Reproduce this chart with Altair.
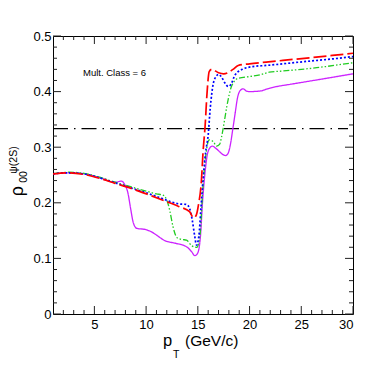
import altair as alt
import pandas as pd

# ---------------- data ----------------
x_domain = [1, 30]
y_domain = [0, 0.5]
x_major = [5, 10, 15, 20, 25, 30]
y_major = [0.0, 0.1, 0.2, 0.3, 0.4, 0.5]
x_minor = [2, 3, 4, 6, 7, 8, 9, 11, 12, 13, 14, 16, 17, 18, 19, 21, 22, 23, 24, 26, 27, 28, 29]
y_minor = [0.02, 0.04, 0.06, 0.08, 0.12, 0.14, 0.16, 0.18, 0.22, 0.24, 0.26, 0.28,
           0.32, 0.34, 0.36, 0.38, 0.42, 0.44, 0.46, 0.48]

red_x = [1.0, 2.5, 4.0, 5.5, 7.0, 8.7, 10.3, 12.0, 13.2, 14.2, 14.6, 14.85, 15.05, 15.35,
         15.5, 15.7, 15.9, 16.1, 16.35, 17.0, 17.5, 17.9, 18.4, 18.9, 20.0, 21.6, 24.8, 28.0, 30.0]
red_y = [0.252, 0.254, 0.251, 0.244, 0.235, 0.225, 0.214, 0.202, 0.193, 0.184, 0.173, 0.178,
         0.195, 0.241, 0.29, 0.337, 0.40, 0.436, 0.440, 0.434, 0.432, 0.434, 0.440, 0.447,
         0.450, 0.453, 0.459, 0.465, 0.469]

blue_x = [1.0, 2.5, 4.0, 5.5, 7.0, 8.5, 10.0, 11.5, 12.5, 13.2, 13.9, 14.2, 14.45, 14.7,
          14.87, 15.1, 15.3, 15.5, 15.75, 16.0, 16.2, 16.5, 16.8, 17.0, 17.3, 17.6, 17.95,
          18.2, 18.6, 19.3, 20.3, 21.6, 24.8, 28.1, 30.0]
blue_y = [0.252, 0.254, 0.252, 0.245, 0.236, 0.227, 0.218, 0.208, 0.201, 0.198, 0.197, 0.19,
          0.17, 0.14, 0.124, 0.14, 0.19, 0.241, 0.29, 0.322, 0.37, 0.415, 0.428, 0.431, 0.426,
          0.416, 0.409, 0.413, 0.43, 0.440, 0.445, 0.447, 0.453, 0.459, 0.463]

green_x = [1.0, 2.5, 4.0, 5.5, 7.0, 8.5, 10.0, 11.0, 11.6, 12.0, 12.3, 12.6, 13.0, 13.5,
           13.9, 14.4, 14.9, 15.2, 15.5, 15.8, 16.1, 16.5, 16.8, 17.1, 17.3, 17.55, 17.8,
           18.25, 18.9, 20.0, 21.0, 21.9, 23.2, 26.5, 30.0]
green_y = [0.252, 0.255, 0.253, 0.246, 0.237, 0.229, 0.221, 0.216, 0.214, 0.205, 0.185,
           0.157, 0.137, 0.134, 0.133, 0.123, 0.12, 0.14, 0.23, 0.29, 0.313, 0.31, 0.302,
           0.305, 0.319, 0.345, 0.373, 0.409, 0.424, 0.427, 0.43, 0.435, 0.437, 0.443, 0.452]

mag_x = [1.0, 2.5, 4.0, 5.5, 7.0, 7.6, 7.9, 8.25, 8.5, 8.75, 9.1, 9.9, 10.5, 11.0, 11.8,
         12.9, 13.9, 14.4, 14.7, 14.97, 15.25, 15.45, 15.7, 15.9, 16.1, 16.4, 16.8, 17.1,
         17.4, 17.7, 17.95, 18.15, 18.4, 18.6, 18.85, 19.1, 19.4, 19.7, 20.0, 21.0, 21.9,
         22.6, 23.9, 26.5, 30.0]
mag_y = [0.252, 0.254, 0.252, 0.245, 0.237, 0.239, 0.234, 0.217, 0.19, 0.165, 0.154, 0.152,
         0.148, 0.142, 0.132, 0.127, 0.121, 0.112, 0.105, 0.109, 0.139, 0.2, 0.255, 0.285,
         0.297, 0.302, 0.297, 0.292, 0.287, 0.285, 0.29, 0.305, 0.335, 0.36, 0.39, 0.402,
         0.405, 0.401, 0.400, 0.401, 0.406, 0.409, 0.413, 0.421, 0.432]

ref_level = [1.0 / 3.0]
label_text = ["Mult. Class = 6"]

# ---------------- chart ----------------
W, H = 300, 278
FONT = "Liberation Sans"
xs = alt.Scale(domain=x_domain, nice=False, zero=False)
ys = alt.Scale(domain=y_domain, nice=False, zero=False)


def X(field):
    return alt.X(field, scale=xs, title=None)


def Y(field):
    return alt.Y(field, scale=ys, title=None)


def curve(xv, yv, color, dash, width):
    df = pd.DataFrame({"pt": xv, "rho": yv})
    return alt.Chart(df).mark_line(
        color=color, strokeDash=dash, strokeWidth=width, interpolate="monotone", clip=True
    ).encode(x=X("pt:Q"), y=Y("rho:Q"))


axes_layer = alt.Chart(pd.DataFrame({"pt": x_domain, "rho": y_domain})).mark_point(opacity=0).encode(
    x=alt.X("pt:Q", scale=xs, title=None,
            axis=alt.Axis(values=x_major, format="d", labelPadding=4)),
    y=alt.Y("rho:Q", scale=ys, title=None,
            axis=alt.Axis(values=y_major, labelPadding=2,
                          labelExpr="datum.value == 0 ? '0' : format(datum.value, '.1f')")),
)


def xticks(vals, length):
    df = pd.DataFrame({"v": vals})
    bot = alt.Chart(df).mark_rule(color="#222", strokeWidth=1).encode(
        x=X("v:Q"), y=alt.value(H), y2=alt.value(H - length))
    top = alt.Chart(df).mark_rule(color="#222", strokeWidth=1).encode(
        x=X("v:Q"), y=alt.value(0), y2=alt.value(length))
    return bot + top


def yticks(vals, length):
    df = pd.DataFrame({"v": vals})
    left = alt.Chart(df).mark_rule(color="#222", strokeWidth=1).encode(
        y=Y("v:Q"), x=alt.value(0), x2=alt.value(length))
    right = alt.Chart(df).mark_rule(color="#222", strokeWidth=1).encode(
        y=Y("v:Q"), x=alt.value(W), x2=alt.value(W - length))
    return left + right


ref = alt.Chart(pd.DataFrame({"rho": ref_level})).mark_rule(
    color="black", strokeWidth=1.4, strokeDash=[15, 6, 1.5, 6]
).encode(y=Y("rho:Q"), x=alt.value(0), x2=alt.value(W - 5))

label = alt.Chart(pd.DataFrame({"t": label_text})).mark_text(
    font=FONT, fontSize=9.5, align="left", baseline="middle", color="black"
).encode(text="t:N", x=alt.value(30), y=alt.value(37))


def txt(s, x, y, size, angle=0, align="center", baseline="middle"):
    return alt.Chart(pd.DataFrame({"t": [s]})).mark_text(
        font=FONT, fontSize=size, angle=angle, align=align, baseline=baseline, color="black"
    ).encode(text="t:N", x=alt.value(x), y=alt.value(y))


xtitle = (txt("p", 110, 310, 16.5, align="left", baseline="alphabetic")
          + txt("T", 120, 322, 10.5, align="left", baseline="alphabetic")
          + txt("(GeV/c)", 132, 310, 15.5, align="left", baseline="alphabetic"))
ytitle = (txt("ρ", -35, 155, 18, angle=270)
          + txt("00", -29, 141, 10.5, angle=270)
          + txt("ψ(2S)", -39, 124, 10.5, angle=270))

chart = alt.layer(
    axes_layer,
    ref,
    curve(mag_x, mag_y, "#cc22ff", [1, 0], 1.3),
    curve(green_x, green_y, "#22cc22", [6, 2, 1.5, 2, 1.5, 2], 1.3),
    curve(blue_x, blue_y, "#0000ff", [2, 2], 1.7),
    curve(red_x, red_y, "#ff0000", [13, 4], 1.7),
    xticks(x_minor, 4), xticks(x_major, 8),
    yticks(y_minor, 4), yticks(y_major, 8),
    label, xtitle, ytitle,
).properties(
    width=W, height=H,
    autosize=alt.AutoSizeParams(type="none"),
    padding={"left": 45, "top": 28, "right": 17, "bottom": 45},
    background="white",
).configure_view(
    stroke="black", strokeWidth=1
).configure_axis(
    ticks=False, domain=False, grid=False, labelFont=FONT, labelFontSize=13,
    labelColor="black", title=None
)

chart.save("out.html", embed_options={"renderer": "svg", "actions": False})
